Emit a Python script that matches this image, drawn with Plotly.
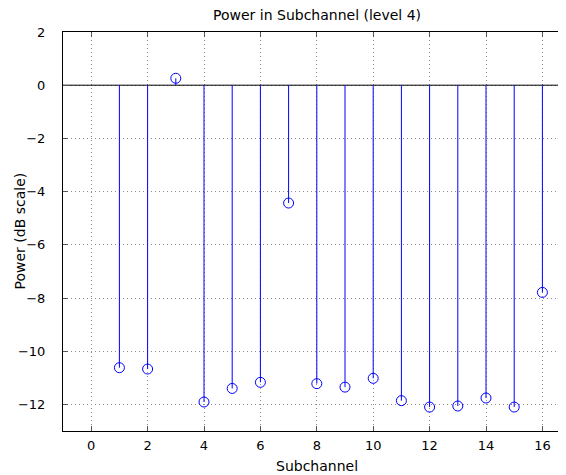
import plotly.graph_objects as go

subchannel = list(range(1, 17))
power_db = [-10.62, -10.67, 0.26, -11.91, -11.40, -11.17, -4.43, -11.22,
            -11.35, -11.02, -11.86, -12.10, -12.06, -11.76, -12.10, -7.79]
x_ticks = [0, 2, 4, 6, 8, 10, 12, 14, 16]
y_ticks = [-12, -10, -8, -6, -4, -2, 0, 2]

# page body has an 8px margin; compensate so the plot lands at the reference pixels
OFF = 8
WIN_W, WIN_H = 566, 475
W, H = WIN_W - OFF, WIN_H - OFF
PLOT_L, PLOT_T, PLOT_B = 63, 32, 431
L, T = PLOT_L - OFF, PLOT_T - OFF
B = WIN_H - PLOT_B
R = 0
plot_w = WIN_W - PLOT_L
plot_h = PLOT_B - PLOT_T

FONT = "DejaVu Sans, Liberation Sans, Arial, sans-serif"
BLUE = "#0000ff"
GRID = "#8c8c8c"

stem_x, stem_y = [], []
for xv, yv in zip(subchannel, power_db):
    stem_x += [xv, xv, None]
    stem_y += [0, yv, None]

fig = go.Figure()
fig.add_trace(go.Scatter(x=[-1, 17], y=[0, 0], mode="lines",
                         line=dict(color="black", width=1), hoverinfo="skip", showlegend=False))
fig.add_trace(go.Scatter(x=stem_x, y=stem_y, mode="lines",
                         line=dict(color=BLUE, width=1), hoverinfo="skip", showlegend=False))
fig.add_trace(go.Scatter(x=subchannel, y=power_db, mode="markers",
                         marker=dict(symbol="circle-open", size=10, color=BLUE,
                                     line=dict(color=BLUE, width=1)),
                         showlegend=False))

px_per_unit = 28.2
x_max = -1 + plot_w / px_per_unit

axis_common = dict(showgrid=True, gridcolor=GRID, griddash="1px,3px", gridwidth=1,
                   zeroline=False, showline=True, linecolor="black", linewidth=1,
                   mirror="ticks", ticks="inside", ticklen=5, tickcolor="#555555",
                   tickfont=dict(family=FONT, size=13))

fig.update_layout(
    width=W, height=H,
    margin=dict(l=L, r=R, t=T, b=B, pad=0),
    paper_bgcolor="white", plot_bgcolor="white",
    font=dict(family=FONT, size=13, color="black"),
    xaxis=dict(range=[-1, x_max], tickvals=x_ticks, ticktext=[str(v) for v in x_ticks],
               ticklabelstandoff=2, **axis_common),
    yaxis=dict(range=[-13, 2], tickvals=y_ticks,
               ticktext=[("\u2212" + str(-v)) if v < 0 else str(v) for v in y_ticks],
               ticklabelstandoff=14, **axis_common),
)

cx = (317 - PLOT_L) / plot_w
fig.add_annotation(text="Power in Subchannel (level 4)", xref="paper", yref="paper",
                   x=cx, y=1 + (PLOT_T - 15) / plot_h, xanchor="center", yanchor="middle",
                   showarrow=False, font=dict(family=FONT, size=14))
fig.add_annotation(text="Subchannel", xref="paper", yref="paper",
                   x=cx, y=-(466 - PLOT_B) / plot_h, xanchor="center", yanchor="middle",
                   showarrow=False, font=dict(family=FONT, size=14))
fig.add_annotation(text="Power (dB scale)", xref="paper", yref="paper",
                   x=-(PLOT_L - 19) / plot_w, y=0.5, xanchor="center", yanchor="middle",
                   textangle=-90, showarrow=False, font=dict(family=FONT, size=14))

fig.write_html("out.html")
